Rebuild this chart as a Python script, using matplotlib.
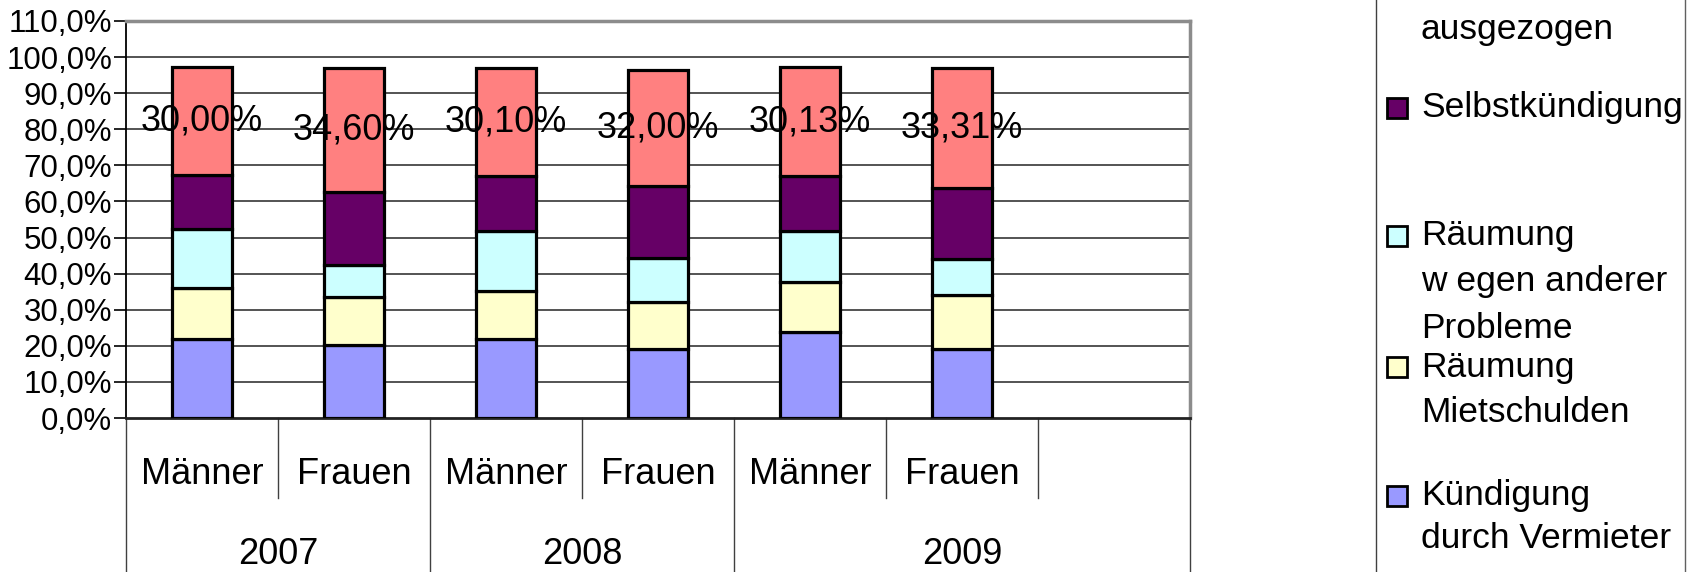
# import libraries
import numpy as np
import matplotlib
matplotlib.use('Agg')
import matplotlib.pyplot as plt
from matplotlib.patches import Rectangle
from matplotlib.lines import Line2D
import matplotlib.transforms as mtransforms

plt.rcParams['font.family'] = ['Liberation Sans', 'DejaVu Sans']

# categories
geschlecht = ['Männer', 'Frauen', 'Männer', 'Frauen', 'Männer', 'Frauen']
jahre = ['2007', '2008', '2009']

# series values (percent), bottom to top
kuendigung_vermieter = [22.0, 20.2, 22.0, 19.2, 23.8, 19.2]
raeumung_miete = [14.0, 13.2, 13.1, 13.0, 14.0, 14.9]
raeumung_andere = [16.5, 9.0, 16.7, 12.0, 14.0, 10.0]
selbstkuendigung = [14.7, 20.1, 15.2, 20.1, 15.2, 19.7]
ausgezogen = [30.00, 34.60, 30.10, 32.00, 30.13, 33.31]

# y ticks
yticks = [0, 10, 20, 30, 40, 50, 60, 70, 80, 90, 100, 110]

W, H = 1698, 572

def fx(px):
	# figure pixel x -> figure fraction
	return px / W

def fy(py):
	# figure pixel y (from top) -> figure fraction
	return 1 - py / H

def main():

	fig = plt.figure(figsize=(W / 100, H / 100), dpi=100)
	ax = fig.add_axes([fx(126), fy(418), fx(1190) - fx(126), fy(21) - fy(418)])

	series = [kuendigung_vermieter, raeumung_miete, raeumung_andere,
		selbstkuendigung, ausgezogen]
	colors = ['#9999FF', '#FFFFCC', '#CCFFFF', '#660066', '#FF8080']

	x = np.arange(len(geschlecht)) + 0.5
	bottom = np.zeros(len(geschlecht))
	for vals, col in zip(series, colors):
		ax.bar(x, vals, width=0.4, bottom=bottom, color=col,
			edgecolor='black', linewidth=2.3, zorder=3)
		bottom += np.array(vals)

	# labels on the top segment
	top_bottom = bottom - np.array(ausgezogen)
	for xi, b, v in zip(x, top_bottom, ausgezogen):
		lab = ('%.2f%%' % v).replace('.', ',')
		ax.text(xi, b + v / 2, lab, ha='center', va='center',
			fontsize=26, zorder=5)

	# axes setup
	ax.set_xlim(0, 7)
	ax.set_ylim(0, 110)
	ax.set_yticks(yticks)
	ax.set_yticklabels([('%.1f%%' % t).replace('.', ',') for t in yticks],
		fontsize=22.5)
	ax.tick_params(axis='y', length=9, width=1.2, pad=1)
	ax.set_xticks([])
	for yt in yticks[1:-1]:
		ax.axhline(yt, color='#454545', linewidth=1.3, zorder=1)

	ax.spines['top'].set_color('#8c8c8c')
	ax.spines['top'].set_linewidth(2.5)
	ax.spines['right'].set_color('#8c8c8c')
	ax.spines['right'].set_linewidth(2.5)
	ax.spines['left'].set_color('black')
	ax.spines['left'].set_linewidth(1.3)
	ax.spines['bottom'].set_color('#222222')
	ax.spines['bottom'].set_linewidth(2.0)

	# two-level category axis below the plot
	trans = mtransforms.blended_transform_factory(ax.transData, ax.transAxes)
	y_short = (418 - 498) / 397.0
	y_long = (418 - 572) / 397.0
	for xs in [0, 2, 4, 7]:
		ax.add_line(Line2D([xs, xs], [0, y_long], transform=trans,
			color='#404040', linewidth=1.0, clip_on=False))
	for xs in [1, 3, 5, 6]:
		ax.add_line(Line2D([xs, xs], [0, y_short], transform=trans,
			color='#404040', linewidth=1.0, clip_on=False))
	for xi, g in zip(x, geschlecht):
		ax.text(xi, (418 - 475) / 397.0, g, transform=trans,
			ha='center', va='center', fontsize=26)
	for xc, j in zip([1.0, 3.0, 5.5], jahre):
		ax.text(xc, (418 - 555) / 397.0, j, transform=trans,
			ha='center', va='center', fontsize=26)

	# legend (cut off at the top, drawn by hand)
	fig.add_artist(Line2D([fx(1376), fx(1376)], [0, 1],
		color='#404040', linewidth=1.0))
	fig.add_artist(Line2D([fx(1685), fx(1685)], [0, 1],
		color='#606060', linewidth=1.0))

	legend_entries = [
		(None, [('ausgezogen', 29)]),
		('#660066', [('Selbstkündigung', 108)]),
		('#CCFFFF', [('Räumung', 236), ('w egen anderer', 282), ('Probleme', 328)]),
		('#FFFFCC', [('Räumung', 367), ('Mietschulden', 412)]),
		('#9999FF', [('Kündigung', 496), ('durch Vermieter', 538)]),
	]
	for col, lines in legend_entries:
		if col is not None:
			ym = lines[0][1]
			fig.add_artist(Rectangle((fx(1387), fy(ym + 10)),
				fx(20), 20 / H, facecolor=col, edgecolor='black',
				linewidth=2.0, transform=fig.transFigure))
		for txt, yy in lines:
			fig.text(fx(1421), fy(yy), txt, ha='left', va='center',
				fontsize=25.5)

	plt.savefig('out.png', dpi=100)

# execute main()
if __name__ == '__main__':
	main()
